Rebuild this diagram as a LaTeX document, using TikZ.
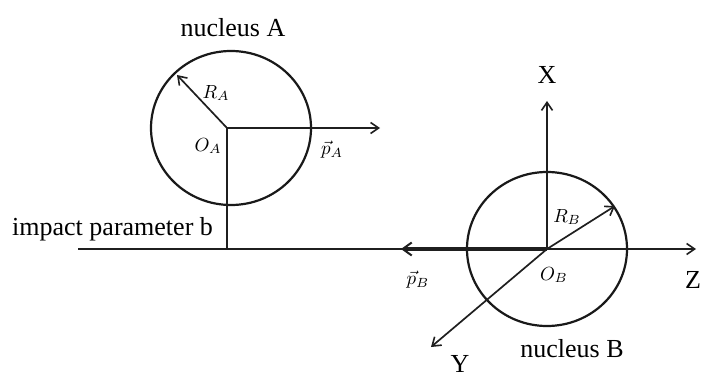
\documentclass[tikz,border=0pt]{standalone}
\usepackage{graphicx}
\usepackage{fontspec}
\setmainfont{Liberation Serif}
\usetikzlibrary{arrows.meta}
\newcommand\mlab[1]{\scalebox{1.9}{$#1$}}
\begin{document}
\begin{tikzpicture}[x=1pt,y=-1pt,
  ln/.style={line width=1.7pt, draw=black!88},
  arr/.style={ln, -{Straight Barb[length=8pt,width=11pt,line width=1.6pt]}},
  thickarr/.style={line width=3.2pt, draw=black!88, -{Straight Barb[length=9pt,width=13pt,line width=2pt]}},
  nucleus/.style={line width=2.2pt, draw=black!90},
  txt/.style={inner sep=0pt, font=\fontsize{26}{30}\selectfont},
  mth/.style={inner sep=0pt}
]
\useasboundingbox (0,0) rectangle (701,377);
% coordinates
\coordinate (OA) at (227,128);
\coordinate (CA) at (231,128);
\coordinate (RAt) at (177,75);
\coordinate (pAt) at (380,128);
\coordinate (foot) at (227,249);
\coordinate (L) at (78,249);
\coordinate (Zt) at (696,249);
\coordinate (OB) at (547,249);
\coordinate (Xt) at (547,101);
\coordinate (RBt) at (615,206);
\coordinate (pBt) at (401,249);
\coordinate (Yt) at (431,347);
% nuclei
\draw[nucleus] (CA) ellipse [x radius=80, y radius=77];
\draw[nucleus] (OB) ellipse [x radius=80, y radius=77];
% lines
\draw[ln] (OA) -- (foot);
\draw[arr] (L) -- (Zt);
\draw[arr] (OA) -- (RAt);
\draw[arr] (OA) -- (pAt);
\draw[arr] (OB) -- (Xt);
\draw[arr] (OB) -- (RBt);
\draw[arr] (OB) -- (Yt);
\draw[thickarr] (OB) -- (pBt);
% texts
\node[txt] (nA) at (233,28) {nucleus A};
\node[txt] (nB) at (572,349) {nucleus B};
\node[txt, anchor=base west] (ip) at (12,235) {impact parameter b};
\node[txt] (X) at (547,75) {X};
\node[txt] (Y) at (460,364) {Y};
\node[txt] (Z) at (693,280) {Z};
\node[mth] (lRA) at (216,93) {\mlab{R_A}};
\node[mth] (lOA) at (208,146) {\mlab{O_A}};
\node[mth] (lpA) at (332,150) {\mlab{\vec{p}_A}};
\node[mth] (lRB) at (567,217) {\mlab{R_B}};
\node[mth] (lOB) at (554,275) {\mlab{O_B}};
\node[mth] (lpB) at (418,280) {\mlab{\vec{p}_B}};
\end{tikzpicture}
\end{document}
